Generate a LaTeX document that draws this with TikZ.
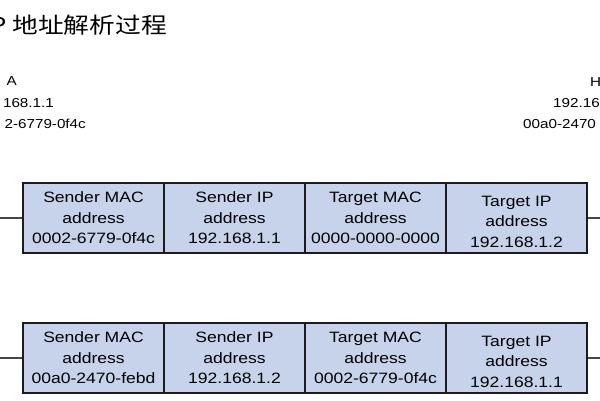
\documentclass[tikz,border=0pt]{standalone}
\usepackage{fontspec}
\setmainfont[FakeStretch=1.17]{Liberation Sans}
\newfontfamily\cjk[FakeStretch=1.17]{Noto Sans CJK SC}
\definecolor{cellfill}{RGB}{199,211,234}
\definecolor{cellline}{RGB}{28,28,28}
\definecolor{wire}{RGB}{70,70,70}
\begin{document}
\begin{tikzpicture}[x=1pt,y=-1pt,
  cell/.style={draw=cellline,fill=cellfill,line width=1.6pt,minimum width=141pt,minimum height=70pt,inner sep=0pt},
  celltext/.style={align=center,inner sep=0pt,font=\fontsize{15}{20.5}\selectfont},
  hostA/.style={anchor=base east,inner sep=0pt,font=\fontsize{13}{16}\selectfont},
  hostB/.style={anchor=base west,inner sep=0pt,font=\fontsize{13}{16}\selectfont},
  wireline/.style={draw=wire,line width=1.1pt}]
\useasboundingbox (0,0) rectangle (600,400);
\fill[white] (0,0) rectangle (600,400);
% title (its first letter is cut by the left edge, as in the reference)
\begin{scope}
\clip (0,0) rectangle (600,60);
\node[anchor=base east,inner sep=0pt,font=\cjk\fontsize{22}{26}\selectfont] (title) at (167,33) {P 地址解析过程};
\end{scope}
% host labels (as far as the reference shows them)
\node[hostA] (ha1) at (17,85) {A};
\node[hostA] (ha2) at (54,107) {168.1.1};
\node[hostA] (ha3) at (86,128) {2-6779-0f4c};
\node[hostB] (hb1) at (590,86) {H};
\node[hostB] (hb2) at (553,107) {192.16};
\node[hostB] (hb3) at (523,128) {00a0-2470};
% request table
\coordinate (la) at (0,218);
\coordinate (ra) at (600,218);
\node[cell] (a1) at (93.5,218) {};
\node[cell] (a2) at (234.5,218) {};
\node[cell] (a3) at (375.5,218) {};
\node[cell] (a4) at (516.5,218) {};
\draw[wireline] (la) -- (a1.west);
\draw[wireline] (a4.east) -- (ra);
\node[celltext] (ta1) at (a1.center) {Sender MAC\\address\\0002-6779-0f4c};
\node[celltext] (ta2) at (a2.center) {Sender IP\\address\\192.168.1.1};
\node[celltext] (ta3) at (a3.center) {Target MAC\\address\\0000-0000-0000};
\node[celltext,yshift=-3.5pt] (ta4) at (a4.center) {Target IP\\address\\192.168.1.2};
% reply table
\coordinate (lb) at (0,358);
\coordinate (rb) at (600,358);
\node[cell] (b1) at (93.5,358) {};
\node[cell] (b2) at (234.5,358) {};
\node[cell] (b3) at (375.5,358) {};
\node[cell] (b4) at (516.5,358) {};
\draw[wireline] (lb) -- (b1.west);
\draw[wireline] (b4.east) -- (rb);
\node[celltext] (tb1) at (b1.center) {Sender MAC\\address\\00a0-2470-febd};
\node[celltext] (tb2) at (b2.center) {Sender IP\\address\\192.168.1.2};
\node[celltext] (tb3) at (b3.center) {Target MAC\\address\\0002-6779-0f4c};
\node[celltext,yshift=-3.5pt] (tb4) at (b4.center) {Target IP\\address\\192.168.1.1};
\end{tikzpicture}
\end{document}
